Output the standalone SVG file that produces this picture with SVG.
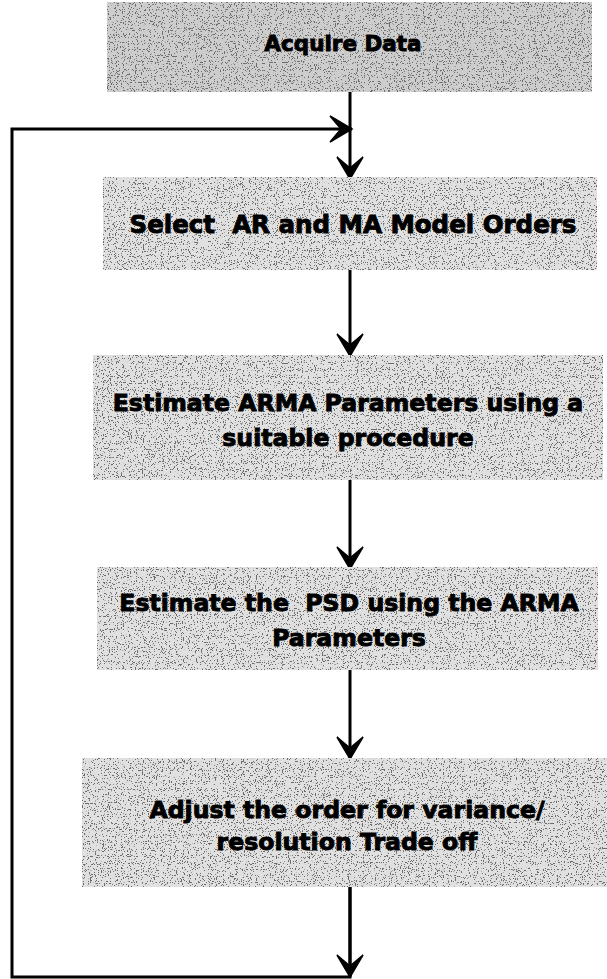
<svg xmlns="http://www.w3.org/2000/svg" width="607" height="979" viewBox="0 0 607 979">
  <defs>
    <!-- sparse dark speckle laid over the grey process boxes -->
    <filter id="grain" x="0" y="0" width="1" height="1">
      <feTurbulence type="fractalNoise" baseFrequency="0.85" numOctaves="2" seed="7" result="noise"/>
      <feColorMatrix in="noise" type="matrix" values="0 0 0 0 0.15  0 0 0 0 0.15  0 0 0 0 0.15  0 0 0 -30 11.5" result="dots"/>
      <feComposite in="dots" in2="SourceGraphic" operator="in" result="clipped"/>
      <feMerge>
        <feMergeNode in="SourceGraphic"/>
        <feMergeNode in="clipped"/>
      </feMerge>
    </filter>
    <marker id="arrow" markerUnits="userSpaceOnUse" viewBox="-24 -15 26 30" refX="0" refY="0" markerWidth="26" markerHeight="30" orient="auto">
      <path d="M0,0 L-22,-13 L-11,0 L-22,13 Z" fill="#000" stroke="#000" stroke-width="1.5" stroke-linejoin="miter"/>
    </marker>
  </defs>
  <style>
    .box { fill: #e0e0e0; filter: url(#grain); }
    .box.dark { fill: #cdcdcd; }
    .label { font-family: "DejaVu Sans", Verdana, sans-serif; font-weight: bold; font-size: 23.6px; fill: #000; stroke: #000; stroke-width: 0.9; text-anchor: middle; }
    .wire { fill: none; stroke: #000; stroke-width: 3; }
  </style>
  <rect width="607" height="979" fill="#fff"/>

  <g id="connectors">
    <line class="wire" x1="350" y1="92" x2="350" y2="179" marker-end="url(#arrow)"/>
    <polyline class="wire" points="350,887 350,977 12,977 12,129 352,129" marker-end="url(#arrow)"/>
    <line class="wire" x1="350" y1="270" x2="350" y2="356" marker-end="url(#arrow)"/>
    <line class="wire" x1="350" y1="480" x2="350" y2="569" marker-end="url(#arrow)"/>
    <line class="wire" x1="350" y1="670" x2="350" y2="759" marker-end="url(#arrow)"/>
    <line class="wire" x1="350" y1="887" x2="350" y2="977" marker-end="url(#arrow)"/>
  </g>

  <g id="acquire-data">
    <rect class="box dark" x="107" y="2" width="485" height="90"/>
    <text class="label" x="343" y="51" style="font-size:21.5px">Acquire Data</text>
  </g>

  <g id="select-orders">
    <rect class="box" x="103" y="177" width="494" height="93"/>
    <text class="label" x="353" y="233" style="font-size:24.5px" xml:space="preserve">Select  AR and MA Model Orders</text>
  </g>

  <g id="estimate-params">
    <rect class="box" x="93" y="355" width="510" height="125"/>
    <text class="label" x="348" y="411">Estimate ARMA Parameters using a</text>
    <text class="label" x="348" y="446">suitable procedure</text>
  </g>

  <g id="estimate-psd">
    <rect class="box" x="97" y="567" width="501" height="103"/>
    <text class="label" x="349" y="611" xml:space="preserve">Estimate the  PSD using the ARMA</text>
    <text class="label" x="349" y="646">Parameters</text>
  </g>

  <g id="adjust-order">
    <rect class="box" x="82" y="758" width="525" height="129"/>
    <text class="label" x="347" y="818">Adjust the order for variance/</text>
    <text class="label" x="347" y="850">resolution Trade off</text>
  </g>
</svg>
